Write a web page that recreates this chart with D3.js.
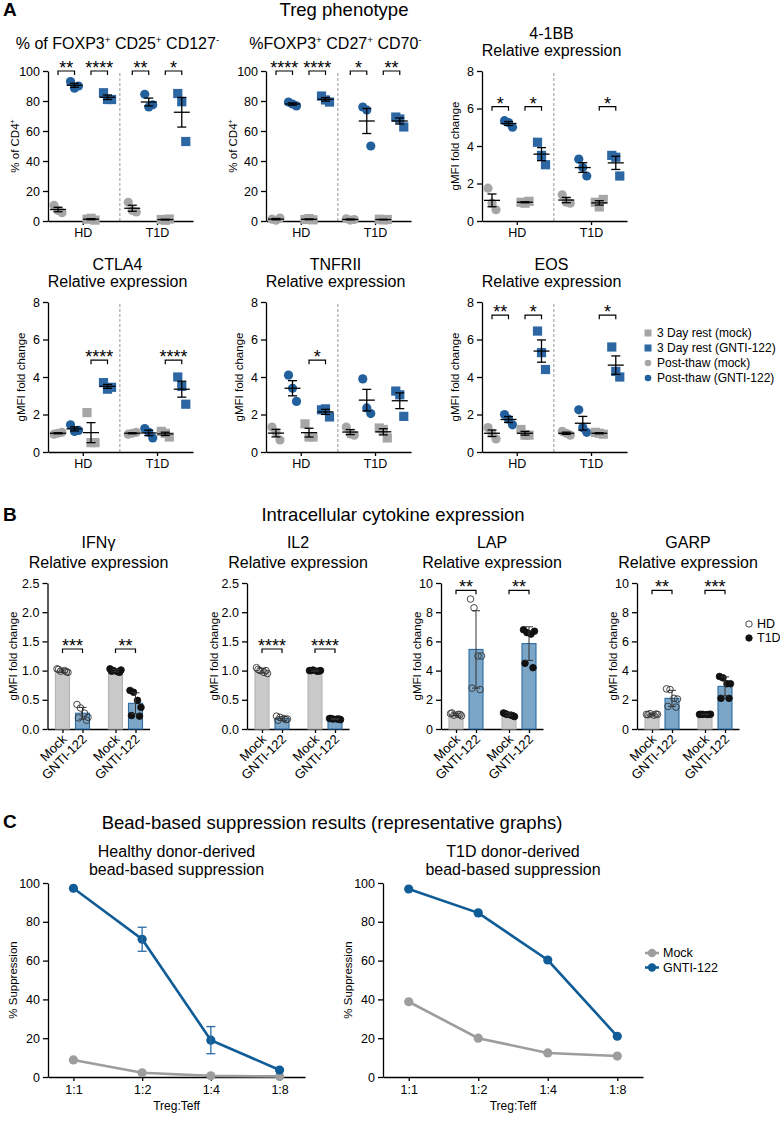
<!DOCTYPE html>
<html><head><meta charset="utf-8">
<script src="https://cdn.jsdelivr.net/npm/d3@7"></script>
<style>
html,body{margin:0;padding:0;background:#fff;}
svg text{font-family:"Liberation Sans",Arial,Helvetica,sans-serif;fill:#000;}
</style></head><body>
<svg id="fig" width="780" height="1128"></svg>
<script>
// ================= DATA =================
// Panel A: categories and series
const conditions = ["HD", "T1D"];
const seriesA = ["Post-thaw (mock)", "Post-thaw (GNTI-122)", "3 Day rest (mock)", "3 Day rest (GNTI-122)"];
const legendOrderA = ["3 Day rest (mock)", "3 Day rest (GNTI-122)", "Post-thaw (mock)", "Post-thaw (GNTI-122)"];

// values: [condition][series] -> replicates
const cd25Vals = [
  [[10.5, 7, 5.5], [93, 88.5, 90], [1.2, 1.8, 0.6], [85.5, 81, 81]],
  [[12.5, 7, 6], [84.5, 76, 77.5], [1, 0.5, 1.3], [85, 79.5, 53]]
];
const cd27Vals = [
  [[1.2, 0.5, 2], [79.3, 78, 76.7], [1, 1.6, 0.8], [83.3, 80.7, 79.3]],
  [[1.5, 0.6, 1], [76, 74, 50], [1.2, 0.7, 1], [69.3, 68, 62.7]]
];
const bb41Vals = [
  [[1.75, 0.95, 0.6], [5.35, 5.25, 5.0], [1.0, 0.95, 1.05], [4.2, 3.5, 3.0]],
  [[1.4, 1.0, 0.95], [3.3, 2.85, 2.4], [1.0, 0.75, 1.15], [3.5, 3.4, 2.4]]
];
const ctla4Vals = [
  [[0.95, 1.0, 1.05], [1.45, 1.1, 1.15], [2.1, 0.5, 0.5], [3.7, 3.35, 3.45]],
  [[0.95, 1.0, 1.05], [1.25, 1.05, 0.75], [1.1, 1.0, 0.8], [4.0, 3.5, 2.55]]
];
const tnfr2Vals = [
  [[1.33, 1.05, 0.64], [4.1, 3.4, 2.7], [1.5, 0.8, 0.8], [2.25, 2.3, 1.87]],
  [[1.33, 0.96, 0.9], [3.9, 2.35, 2.05], [1.28, 1.2, 0.75], [3.25, 3.05, 1.9]]
];
const eosVals = [
  [[1.3, 1.0, 0.7], [2.0, 1.75, 1.45], [1.2, 0.9, 0.9], [6.45, 5.3, 4.4]],
  [[1.1, 1.0, 0.9], [2.25, 1.3, 1.05], [1.05, 1.0, 0.95], [5.6, 4.3, 4.0]]
];
// significance: [condition, seriesA, seriesB, label, bracket value]
const cd25Sig = [[0, 0, 1, "**", 100], [0, 2, 3, "****", 100], [1, 0, 1, "**", 100], [1, 2, 3, "*", 100]];
const cd27Sig = [[0, 0, 1, "****", 100], [0, 2, 3, "****", 100], [1, 0, 1, "*", 100], [1, 2, 3, "**", 100]];
const bb41Sig = [[0, 0, 1, "*", 6.1], [0, 2, 3, "*", 6.1], [1, 2, 3, "*", 6.1]];
const ctla4Sig = [[0, 2, 3, "****", 4.9], [1, 2, 3, "****", 4.9]];
const tnfr2Sig = [[0, 2, 3, "*", 4.9]];
const eosSig = [[0, 0, 1, "**", 7.3], [0, 2, 3, "*", 7.3], [1, 2, 3, "*", 7.3]];
const pctTicks = [0, 20, 40, 60, 80, 100];
const foldTicks = [0, 2, 4, 6, 8];

// Panel B
const barLabels = ["Mock", "GNTI-122", "Mock", "GNTI-122"];
const barDonor = ["HD", "HD", "T1D", "T1D"];
const ifngPts = [[1.03, 0.99, 1.0, 0.97, 1.02, 0.98], [0.42, 0.36, 0.27, 0.2, 0.19, 0.15], [1.03, 1.0, 0.98, 1.01, 0.99, 0.97], [0.66, 0.63, 0.49, 0.37, 0.23, 0.22]];
const ifngMean = [1.0, 0.27, 1.0, 0.44];
const ifngSD = [0.03, 0.1, 0.02, 0.18];
const il2Pts = [[1.05, 1.0, 0.97, 0.95, 1.02, 1.0], [0.22, 0.2, 0.18, 0.17, 0.15, 0.16], [1.0, 1.01, 0.99, 1.0, 1.0, 0.99], [0.18, 0.17, 0.17, 0.16, 0.18, 0.17]];
const il2Mean = [1.0, 0.18, 1.0, 0.17];
const il2SD = [0.04, 0.03, 0.01, 0.01];
const lapPts = [[1.05, 0.95, 1.0, 0.9, 1.1, 1.0], [8.9, 8.3, 5.0, 5.0, 2.8, 2.7], [1.1, 1.0, 0.95, 0.85, 1.05, 0.9], [6.8, 6.6, 6.5, 6.7, 4.5, 4.2]];
const lapMean = [1.0, 5.45, 1.0, 5.85];
const lapSD = [0.08, 2.65, 0.1, 1.15];
const garpPts = [[1.0, 1.05, 0.95, 1.0, 0.98, 1.02], [2.75, 2.7, 2.1, 2.05, 1.55, 1.5], [1.0, 1.0, 0.99, 1.01, 1.0, 1.0], [3.6, 3.5, 3.1, 3.1, 2.1, 2.1]];
const garpMean = [1.0, 2.1, 1.0, 2.92];
const garpSD = [0.04, 0.55, 0.01, 0.65];
// [barA, barB, label, value]
const ifngSig = [[0, 1, "***", 1.37], [2, 3, "**", 1.37]];
const il2Sig = [[0, 1, "****", 1.37], [2, 3, "****", 1.37]];
const lapSig = [[0, 1, "**", 9.5], [2, 3, "**", 9.5]];
const garpSig = [[0, 1, "**", 9.5], [2, 3, "***", 9.5]];
const smallTicks = [0, 0.5, 1.0, 1.5, 2.0, 2.5];
const bigTicks = [0, 2, 4, 6, 8, 10];

// Panel C
const ratios = ["1:1", "1:2", "1:4", "1:8"];
const hdMock = [8.8, 2.2, 0.6, 0.3];
const hdGnti = [97.3, 71, 19, 3.6];
const hdGntiErr = [0, 6.2, 7, 0];
const t1dMock = [38.8, 20, 12.4, 10.8];
const t1dGnti = [96.9, 84.6, 60.3, 21];
const supTicks = [0, 20, 40, 60, 80, 100];

// ================= STYLE / LAYOUT =================
const FONT = '"Liberation Sans", Arial, Helvetica, sans-serif';
const GRAY = "#a6a6a6";
const BLUE = "#22609d";
const BLUE_SQ = "#2c66a3";
const LINE_BLUE = "#0f5c97";
const LINE_GRAY = "#9d9d9d";
const svg = d3.select("#fig");

function rich(sel, str, fs) {
  str.split(/(\^.)/).filter(p => p.length).forEach(p => {
    if (p[0] === "^") sel.append("tspan").attr("font-size", fs * 0.62).attr("baseline-shift", (fs * 0.36) + "px").text(p[1]);
    else sel.append("tspan").text(p);
  });
}
function text(x, y, str, fs, anchor, weight) {
  const t = svg.append("text").attr("x", x).attr("y", y).attr("font-size", fs)
    .attr("text-anchor", anchor || "middle").attr("font-weight", weight || "normal");
  rich(t, str, fs);
  return t;
}
function styleAxis(g, fs) {
  g.attr("font-family", FONT).attr("font-size", fs);
  g.selectAll("path.domain").attr("stroke", "#000").attr("stroke-width", 1.3);
  g.selectAll(".tick line").attr("stroke", "#000").attr("stroke-width", 1.3);
  g.selectAll(".tick text").attr("fill", "#000");
}
function yLabel(x, yMid, str, fs) {
  const t = svg.append("text").attr("transform", `translate(${x},${yMid}) rotate(-90)`)
    .attr("text-anchor", "middle").attr("dy", "0.35em").attr("font-size", fs);
  rich(t, str, fs);
}
function bracket(xa, xb, y, label) {
  svg.append("path").attr("d", `M${xa},${y + 4}V${y}H${xb}V${y + 4}`)
    .attr("fill", "none").attr("stroke", "#000").attr("stroke-width", 1.2);
  svg.append("text").attr("x", (xa + xb) / 2).attr("y", y + 3).attr("text-anchor", "middle")
    .attr("font-size", 18).text(label);
}

// ---------- Headings ----------
text(3, 16, "A", 19, "start", "bold");
text(344, 16, "Treg phenotype", 18.5);
text(3, 521, "B", 19, "start", "bold");
text(393, 521, "Intracellular cytokine expression", 18.5);
text(3, 828, "C", 19, "start", "bold");
text(332, 829, "Bead-based suppression results (representative graphs)", 18.5);

// ---------- Panel A ----------
const aCharts = [
  { vals: cd25Vals, sig: cd25Sig, title: ["% of FOXP3^+ CD25^+ CD127^-"], ylab: "% of CD4^+", yMax: 100, ticks: pctTicks, x0: 48, top: 71, ylOff: 33 },
  { vals: cd27Vals, sig: cd27Sig, title: ["%FOXP3^+ CD27^+ CD70^-"], ylab: "% of CD4^+", yMax: 100, ticks: pctTicks, x0: 266, top: 71, ylOff: 33 },
  { vals: bb41Vals, sig: bb41Sig, title: ["4-1BB", "Relative expression"], ylab: "gMFI fold change", yMax: 8, ticks: foldTicks, x0: 482, top: 71, ylOff: 27 },
  { vals: ctla4Vals, sig: ctla4Sig, title: ["CTLA4", "Relative expression"], ylab: "gMFI fold change", yMax: 8, ticks: foldTicks, x0: 48, top: 302, ylOff: 27 },
  { vals: tnfr2Vals, sig: tnfr2Sig, title: ["TNFRII", "Relative expression"], ylab: "gMFI fold change", yMax: 8, ticks: foldTicks, x0: 266, top: 302, ylOff: 27 },
  { vals: eosVals, sig: eosSig, title: ["EOS", "Relative expression"], ylab: "gMFI fold change", yMax: 8, ticks: foldTicks, x0: 482, top: 302, ylOff: 27 }
];
const jitA = [-4, 0, 4];
aCharts.forEach(c => {
  const W = 145, H = 150;
  const bottom = c.top + H;
  const x = d3.scaleLinear().domain([-0.606, 8.18]).range([c.x0, c.x0 + W]);
  const y = d3.scaleLinear().domain([0, c.yMax]).range([bottom, c.top]);
  const pos = (ci, s) => x(ci * 4.5 + s);
  const cx = c.x0 + W / 2 - 3;
  if (c.title.length === 1) text(cx, c.top - 22, c.title[0], 16);
  else { text(cx, c.top - 32, c.title[0], 16); text(cx, c.top - 15, c.title[1], 16); }
  // separator
  svg.append("line").attr("x1", x(3.75)).attr("x2", x(3.75)).attr("y1", bottom).attr("y2", c.top)
    .attr("stroke", "#888").attr("stroke-width", 0.9).attr("stroke-dasharray", "3,2");
  // axes
  const gy = svg.append("g").attr("transform", `translate(${c.x0},0)`)
    .call(d3.axisLeft(y).tickValues(c.ticks).tickSize(5).tickSizeOuter(0).tickPadding(3));
  styleAxis(gy, 12.5);
  const gx = svg.append("g").attr("transform", `translate(0,${bottom})`)
    .call(d3.axisBottom(x).tickValues([1.5, 6]).tickFormat(v => v === 1.5 ? conditions[0] : conditions[1]).tickSize(4).tickSizeOuter(0).tickPadding(3));
  styleAxis(gx, 12.5);
  yLabel(c.x0 - c.ylOff, (c.top + bottom) / 2, c.ylab, 11.5);
  // points
  c.vals.forEach((cond, ci) => cond.forEach((vals, s) => {
    const px = pos(ci, s);
    const col = (s === 0 || s === 2) ? GRAY : (s === 1 ? BLUE : BLUE_SQ);
    vals.forEach((v, i) => {
      if (s < 2) svg.append("circle").attr("cx", px + jitA[i]).attr("cy", y(v)).attr("r", 4.6).attr("fill", col);
      else svg.append("rect").attr("x", px + jitA[i] - 4.6).attr("y", y(v) - 4.6).attr("width", 9.2).attr("height", 9.2).attr("fill", col);
    });
    const m = d3.mean(vals), se = d3.deviation(vals) / Math.sqrt(vals.length);
    const st = { stroke: "#000", "stroke-width": 1.3 };
    const L = (x1, y1, x2, y2) => svg.append("line").attr("x1", x1).attr("y1", y1).attr("x2", x2).attr("y2", y2).attr("stroke", "#000").attr("stroke-width", 1.3);
    L(px - 8, y(m), px + 8, y(m));
    L(px, y(m - se), px, y(m + se));
    L(px - 4.5, y(m + se), px + 4.5, y(m + se));
    L(px - 4.5, y(Math.max(0, m - se)), px + 4.5, y(Math.max(0, m - se)));
  }));
  c.sig.forEach(([ci, sa, sb, lab, v]) => bracket(pos(ci, sa), pos(ci, sb), y(v), lab));
});
// Legend A
legendOrderA.forEach((name, i) => {
  const yy = 333 + i * 15;
  const s = seriesA.indexOf(name);
  const col = (s === 0 || s === 2) ? GRAY : BLUE;
  if (s >= 2) svg.append("rect").attr("x", 644.5).attr("y", yy - 3.5).attr("width", 7).attr("height", 7).attr("fill", s === 2 ? GRAY : BLUE_SQ);
  else svg.append("circle").attr("cx", 648).attr("cy", yy).attr("r", 3.3).attr("fill", col);
  svg.append("text").attr("x", 657).attr("y", yy).attr("dy", "0.35em").attr("font-size", 12).text(name);
});

// ---------- Panel B ----------
const bCharts = [
  { pts: ifngPts, mean: ifngMean, sd: ifngSD, sig: ifngSig, title: ["IFNγ", "Relative expression"], yMax: 2.5, ticks: smallTicks, fmt: d3.format(".1f"), x0: 47.5, ylOff: 35 },
  { pts: il2Pts, mean: il2Mean, sd: il2SD, sig: il2Sig, title: ["IL2", "Relative expression"], yMax: 2.5, ticks: smallTicks, fmt: d3.format(".1f"), x0: 247, ylOff: 33 },
  { pts: lapPts, mean: lapMean, sd: lapSD, sig: lapSig, title: ["LAP", "Relative expression"], yMax: 10, ticks: bigTicks, fmt: d3.format("d"), x0: 441, ylOff: 24 },
  { pts: garpPts, mean: garpMean, sd: garpSD, sig: garpSig, title: ["GARP", "Relative expression"], yMax: 10, ticks: bigTicks, fmt: d3.format("d"), x0: 637, ylOff: 24 }
];
const barU = [0, 1, 2.65, 3.65];
const jitB = [-5.5, -2, 2, 5.5, -4, 4];
bCharts.forEach(c => {
  const top = 583, bottom = 729, W = 102;
  const x = d3.scaleLinear().domain([-0.75, 4.35]).range([c.x0, c.x0 + W]);
  const y = d3.scaleLinear().domain([0, c.yMax]).range([bottom, top]);
  const cx = c.x0 + 51;
  text(cx, 548, c.title[0], 16);
  text(cx, 568, c.title[1], 16);
  const gy = svg.append("g").attr("transform", `translate(${c.x0},0)`)
    .call(d3.axisLeft(y).tickValues(c.ticks).tickFormat(c.fmt).tickSize(5).tickSizeOuter(0).tickPadding(3));
  styleAxis(gy, 12.5);
  const gx = svg.append("g").attr("transform", `translate(0,${bottom})`)
    .call(d3.axisBottom(x).tickValues(barU).tickFormat("").tickSize(4).tickSizeOuter(0));
  styleAxis(gx, 12.5);
  barU.forEach((u, i) => {
    svg.append("text").attr("transform", `translate(${x(u) + 5},${bottom + 11}) rotate(-45)`)
      .attr("text-anchor", "end").attr("font-size", 13).text(barLabels[i]);
  });
  yLabel(c.x0 - c.ylOff, (top + bottom) / 2, "gMFI fold change", 11.5);
  barU.forEach((u, i) => {
    const px = x(u), m = c.mean[i];
    const mock = i % 2 === 0;
    svg.append("rect").attr("x", px - 7).attr("y", y(m)).attr("width", 14).attr("height", bottom - y(m))
      .attr("fill", mock ? "#c9c9c9" : "#7ba6c8").attr("stroke", mock ? "#b3b3b3" : "#2d6ba1").attr("stroke-width", 1.1);
    c.pts[i].forEach((v, j) => {
      const hd = barDonor[i] === "HD";
      svg.append("circle").attr("cx", px + jitB[j]).attr("cy", y(v)).attr("r", 3.3)
        .attr("fill", hd ? "none" : "#111").attr("stroke", hd ? "#333" : "#111").attr("stroke-width", 0.9);
    });
    const sd = c.sd[i];
    const L = (x1, y1, x2, y2) => svg.append("line").attr("x1", x1).attr("y1", y1).attr("x2", x2).attr("y2", y2).attr("stroke", "#333").attr("stroke-width", 1);
    L(px, y(m - sd), px, y(m + sd));
    L(px - 4, y(m + sd), px + 4, y(m + sd));
    L(px - 4, y(m - sd), px + 4, y(m - sd));
  });
  c.sig.forEach(([a, b, lab, v]) => bracket(x(barU[a]), x(barU[b]), y(v), lab));
});
// Legend B
[["HD", true], ["T1D", false]].forEach(([name, open], i) => {
  const yy = 624 + i * 14;
  svg.append("circle").attr("cx", 749).attr("cy", yy).attr("r", 3.2)
    .attr("fill", open ? "none" : "#111").attr("stroke", open ? "#333" : "#111").attr("stroke-width", 0.9);
  svg.append("text").attr("x", 757).attr("y", yy).attr("dy", "0.35em").attr("font-size", 12.5).text(name);
});

// ---------- Panel C ----------
const cCharts = [
  { mock: hdMock, gnti: hdGnti, err: hdGntiErr, title: ["Healthy donor-derived", "bead-based suppression"], x0: 48, x1: 305 },
  { mock: t1dMock, gnti: t1dGnti, err: null, title: ["T1D donor-derived", "bead-based suppression"], x0: 383, x1: 643 }
];
cCharts.forEach(c => {
  const top = 883, bottom = 1077;
  const x = d3.scalePoint().domain(ratios).range([c.x0, c.x1]).padding(0.37);
  const y = d3.scaleLinear().domain([0, 100]).range([bottom, top]);
  const cx = (c.x0 + c.x1) / 2;
  text(cx, 857, c.title[0], 16);
  text(cx, 875, c.title[1], 16);
  const gy = svg.append("g").attr("transform", `translate(${c.x0},0)`)
    .call(d3.axisLeft(y).tickValues(supTicks).tickSize(5).tickSizeOuter(0).tickPadding(3));
  styleAxis(gy, 12.5);
  const gx = svg.append("g").attr("transform", `translate(0,${bottom})`)
    .call(d3.axisBottom(x).tickSize(4).tickSizeOuter(0).tickPadding(4));
  styleAxis(gx, 12.5);
  text(cx, 1110, "Treg:Teff", 12);
  yLabel(c.x0 - 35, (top + bottom) / 2, "% Suppression", 11.5);
  const line = d3.line().x((d, i) => x(ratios[i])).y(d => y(d));
  [[c.mock, LINE_GRAY], [c.gnti, LINE_BLUE]].forEach(([vals, col]) => {
    svg.append("path").attr("d", line(vals)).attr("fill", "none").attr("stroke", col).attr("stroke-width", 2.6);
    vals.forEach((v, i) => svg.append("circle").attr("cx", x(ratios[i])).attr("cy", y(v)).attr("r", 4.6).attr("fill", col));
  });
  if (c.err) c.err.forEach((e, i) => {
    if (!e) return;
    const px = x(ratios[i]), m = c.gnti[i];
    const L = (x1, y1, x2, y2) => svg.append("line").attr("x1", x1).attr("y1", y1).attr("x2", x2).attr("y2", y2).attr("stroke", "#2c6aa3").attr("stroke-width", 1.3);
    L(px, y(m - e), px, y(m + e));
    L(px - 4.5, y(m + e), px + 4.5, y(m + e));
    L(px - 4.5, y(m - e), px + 4.5, y(m - e));
  });
});
// Legend C
[["Mock", LINE_GRAY], ["GNTI-122", LINE_BLUE]].forEach(([name, col], i) => {
  const yy = 953 + i * 14.5;
  svg.append("line").attr("x1", 645).attr("x2", 659).attr("y1", yy).attr("y2", yy).attr("stroke", col).attr("stroke-width", 2.6);
  svg.append("circle").attr("cx", 652).attr("cy", yy).attr("r", 4.2).attr("fill", col);
  svg.append("text").attr("x", 663).attr("y", yy).attr("dy", "0.35em").attr("font-size", 12.5).text(name);
});
</script>
</body></html>
